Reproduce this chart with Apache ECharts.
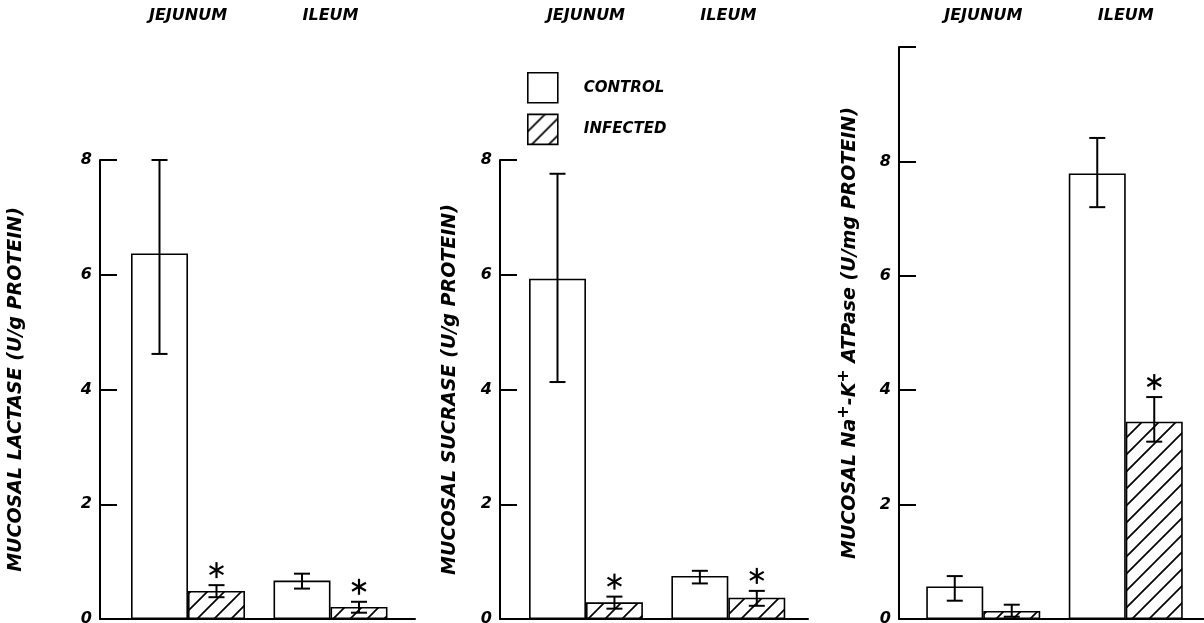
<!DOCTYPE html>
<html>
<head>
<meta charset="utf-8">
<script src="https://cdn.jsdelivr.net/npm/echarts@6/dist/echarts.min.js"></script>
<style>
  html, body { margin: 0; background: #fff; }
  #chart { width: 1204px; height: 623px; }
</style>
</head>
<body>
<div id="chart"></div>
<script>
  // data
  var categories = ['JEJUNUM', 'ILEUM'];
  var seriesNames = ['CONTROL', 'INFECTED'];

  var lactaseControl = [6.37, 0.67];
  var lactaseControlLow = [4.62, 0.53];
  var lactaseControlHigh = [8.0, 0.79];
  var lactaseInfected = [0.49, 0.21];
  var lactaseInfectedLow = [0.38, 0.11];
  var lactaseInfectedHigh = [0.59, 0.30];
  var lactaseStar = [1, 1];

  var sucraseControl = [5.93, 0.75];
  var sucraseControlLow = [4.13, 0.62];
  var sucraseControlHigh = [7.76, 0.84];
  var sucraseInfected = [0.29, 0.37];
  var sucraseInfectedLow = [0.18, 0.23];
  var sucraseInfectedHigh = [0.39, 0.49];
  var sucraseStar = [1, 1];

  var atpaseControl = [0.57, 7.79];
  var atpaseControlLow = [0.32, 7.2];
  var atpaseControlHigh = [0.75, 8.41];
  var atpaseInfected = [0.14, 3.45];
  var atpaseInfectedLow = [0.04, 3.1];
  var atpaseInfectedHigh = [0.25, 3.88];
  var atpaseStar = [0, 1];

  var tickLabels8 = [0, 2, 4, 6, 8];
  var tickLabels10 = [0, 2, 4, 6, 8];

  var font = 'DejaVu Sans';

  function makeHatch() {
    var s = 17;
    var c = document.createElement('canvas');
    c.width = s; c.height = s;
    var g = c.getContext('2d');
    g.fillStyle = '#fff';
    g.fillRect(0, 0, s, s);
    g.strokeStyle = '#000';
    g.lineWidth = 1.7;
    g.beginPath();
    g.moveTo(-2, s + 2); g.lineTo(s + 2, -2);
    g.moveTo(-2, 2); g.lineTo(2, -2);
    g.moveTo(s - 2, s + 2); g.lineTo(s + 2, s - 2);
    g.stroke();
    return c;
  }
  var hatch = { image: makeHatch(), repeat: 'repeat' };

  var panels = [
    {
      name: 'MUCOSAL LACTASE (U/g PROTEIN)', axisX: 100, lineEnd: 415, band: [116.75, 401.75],
      max: 8, top: 160, nameGap: 74, labels: tickLabels8,
      control: lactaseControl, cLow: lactaseControlLow, cHigh: lactaseControlHigh,
      infected: lactaseInfected, iLow: lactaseInfectedLow, iHigh: lactaseInfectedHigh, star: lactaseStar
    },
    {
      name: 'MUCOSAL SUCRASE (U/g PROTEIN)', axisX: 500, lineEnd: 808, band: [514.8, 799.5],
      max: 8, top: 160, nameGap: 40, labels: tickLabels8,
      control: sucraseControl, cLow: sucraseControlLow, cHigh: sucraseControlHigh,
      infected: sucraseInfected, iLow: sucraseInfectedLow, iHigh: sucraseInfectedHigh, star: sucraseStar
    },
    {
      name: 'MUCOSAL Na{sup|+}-K{sup|+} ATPase (U/mg PROTEIN)', axisX: 899, lineEnd: 1204, band: [912, 1197],
      max: 10, top: 47, nameGap: 35, labels: tickLabels10,
      control: atpaseControl, cLow: atpaseControlLow, cHigh: atpaseControlHigh,
      infected: atpaseInfected, iLow: atpaseInfectedLow, iHigh: atpaseInfectedHigh, star: atpaseStar
    }
  ];

  function errorRender(sign) {
    return function (params, api) {
      var i = api.value(0);
      var lo = api.coord([i, api.value(1)]);
      var hi = api.coord([i, api.value(2)]);
      var band = api.size([1, 0])[0];
      var x = lo[0] + sign * band * 0.8 / 4;
      var cap = 8;
      var st = { stroke: '#000', lineWidth: 2 };
      var kids = [
        { type: 'line', shape: { x1: x, y1: lo[1], x2: x, y2: hi[1] }, style: st },
        { type: 'line', shape: { x1: x - cap, y1: lo[1], x2: x + cap, y2: lo[1] }, style: st },
        { type: 'line', shape: { x1: x - cap, y1: hi[1], x2: x + cap, y2: hi[1] }, style: st }
      ];
      if (api.value(3)) {
        var cy = hi[1] - 15, r = 8;
        [90, 30, 150].forEach(function (a) {
          var t = a * Math.PI / 180;
          kids.push({
            type: 'line',
            shape: { x1: x - r * Math.cos(t), y1: cy - r * Math.sin(t), x2: x + r * Math.cos(t), y2: cy + r * Math.sin(t) },
            style: { stroke: '#000', lineWidth: 2.2 }
          });
        });
      }
      return { type: 'group', children: kids };
    };
  }

  var textBase = { fontFamily: font, fontWeight: 'bold', fontStyle: 'italic', color: '#000' };
  var grid = [], xAxis = [], yAxis = [], series = [];

  panels.forEach(function (p, k) {
    var a = 2 * k, b = 2 * k + 1;
    grid.push({ left: p.axisX, width: p.lineEnd - p.axisX, top: p.top, bottom: 4, outerBoundsMode: 'none' });
    grid.push({ left: p.band[0], width: p.band[1] - p.band[0], top: p.top, bottom: 4, outerBoundsMode: 'none' });

    xAxis.push({
      gridIndex: a, type: 'value', min: 0, max: 1,
      axisLine: { show: true, lineStyle: { color: '#000', width: 2 } },
      axisTick: { show: false }, axisLabel: { show: false }, splitLine: { show: false }
    });
    xAxis.push({
      gridIndex: b, type: 'category', data: categories, position: 'top', offset: p.top - 32,
      axisLine: { show: false }, axisTick: { show: false },
      axisLabel: Object.assign({ fontSize: 16, margin: 8, interval: 0 }, textBase)
    });

    yAxis.push({
      gridIndex: a, type: 'value', min: 0, max: p.max, interval: 2,
      axisLine: { show: true, lineStyle: { color: '#000', width: 2 } },
      axisTick: { show: true, inside: true, length: 17, lineStyle: { color: '#000', width: 2 } },
      axisLabel: Object.assign({
        fontSize: 16, margin: 8,
        formatter: function (v) { return p.labels.indexOf(v) >= 0 ? String(v) : ''; }
      }, textBase),
      splitLine: { show: false },
      name: p.name, nameLocation: 'middle', nameRotate: 90, nameGap: p.nameGap,
      nameTextStyle: Object.assign({
        fontSize: 19,
        rich: { sup: { fontFamily: font, fontWeight: 'bold', fontSize: 16, color: '#000', padding: [0, 0, 12, 0] } }
      }, textBase)
    });
    yAxis.push({ gridIndex: b, type: 'value', min: 0, max: p.max, show: false });

    series.push({
      name: seriesNames[0], type: 'bar', xAxisIndex: b, yAxisIndex: b,
      data: p.control, barGap: '0%', barCategoryGap: '20%',
      itemStyle: { color: '#fff', borderColor: '#000', borderWidth: 1.6 }
    });
    series.push({
      name: seriesNames[1], type: 'bar', xAxisIndex: b, yAxisIndex: b,
      data: p.infected, barGap: '0%', barCategoryGap: '20%',
      itemStyle: { color: hatch, borderColor: '#000', borderWidth: 1.6 }
    });
    series.push({
      type: 'custom', xAxisIndex: b, yAxisIndex: b, z: 5, silent: true,
      renderItem: errorRender(-1),
      data: categories.map(function (c, i) { return [i, p.cLow[i], p.cHigh[i], 0]; })
    });
    series.push({
      type: 'custom', xAxisIndex: b, yAxisIndex: b, z: 5, silent: true,
      renderItem: errorRender(1),
      data: categories.map(function (c, i) { return [i, p.iLow[i], p.iHigh[i], p.star[i]]; })
    });
  });

  var chart = echarts.init(document.getElementById('chart'));
  chart.setOption({
    animation: false,
    backgroundColor: '#fff',
    legend: {
      data: seriesNames, left: 522, top: 67, orient: 'vertical',
      itemWidth: 30, itemHeight: 30, itemGap: 10, icon: 'rect', selectedMode: false,
      itemStyle: { borderColor: '#000', borderWidth: 1.6 },
      textStyle: Object.assign({ fontSize: 15, padding: [0, 0, 0, 21] }, textBase)
    },
    grid: grid,
    xAxis: xAxis,
    yAxis: yAxis,
    series: series
  });
</script>
</body>
</html>
